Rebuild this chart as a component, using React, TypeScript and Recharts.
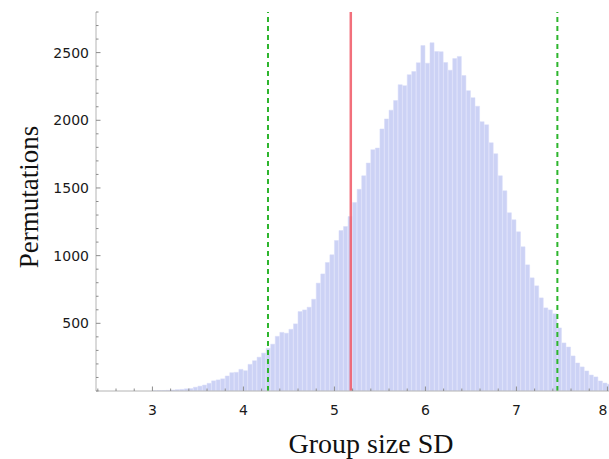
import React from 'react';
import { BarChart, Bar, XAxis, YAxis, ReferenceLine } from 'recharts';

// Histogram bins (left edge of each 0.05-wide bin) and permutation counts
const binStarts = [
  3.0, 3.05, 3.1, 3.15, 3.2, 3.25, 3.3, 3.35, 3.4, 3.45,
  3.5, 3.55, 3.6, 3.65, 3.7, 3.75, 3.8, 3.85, 3.9, 3.95,
  4.0, 4.05, 4.1, 4.15, 4.2, 4.25, 4.3, 4.35, 4.4, 4.45,
  4.5, 4.55, 4.6, 4.65, 4.7, 4.75, 4.8, 4.85, 4.9, 4.95,
  5.0, 5.05, 5.1, 5.15, 5.2, 5.25, 5.3, 5.35, 5.4, 5.45,
  5.5, 5.55, 5.6, 5.65, 5.7, 5.75, 5.8, 5.85, 5.9, 5.95,
  6.0, 6.05, 6.1, 6.15, 6.2, 6.25, 6.3, 6.35, 6.4, 6.45,
  6.5, 6.55, 6.6, 6.65, 6.7, 6.75, 6.8, 6.85, 6.9, 6.95,
  7.0, 7.05, 7.1, 7.15, 7.2, 7.25, 7.3, 7.35, 7.4, 7.45,
  7.5, 7.55, 7.6, 7.65, 7.7, 7.75, 7.8, 7.85, 7.9, 7.95,
  8.0,
];
const counts = [
  2, 3, 4, 5, 7, 10, 12, 16, 18, 28,
  36, 44, 57, 75, 82, 90, 111, 135, 138, 160,
  150, 197, 224, 250, 280, 315, 346, 404, 433, 427,
  456, 496, 587, 599, 619, 678, 797, 865, 949, 1006,
  1112, 1186, 1215, 1289, 1392, 1490, 1590, 1684, 1783, 1795,
  1936, 2010, 2075, 2146, 2263, 2256, 2337, 2360, 2425, 2552,
  2422, 2573, 2508, 2507, 2426, 2370, 2456, 2472, 2330, 2219,
  2167, 2104, 1990, 1967, 1834, 1753, 1590, 1479, 1317, 1265,
  1176, 1065, 932, 836, 777, 688, 614, 599, 570, 466,
  355, 325, 259, 207, 178, 148, 118, 104, 74, 59,
  50,
];
const binWidth = 0.05;

const xTicks = [
  2.4, 2.6, 2.8, 3, 3.2, 3.4, 3.6, 3.8, 4, 4.2, 4.4, 4.6, 4.8, 5, 5.2, 5.4,
  5.6, 5.8, 6, 6.2, 6.4, 6.6, 6.8, 7, 7.2, 7.4, 7.6, 7.8, 8,
];
const xTickLabels = [3, 4, 5, 6, 7, 8];
const yTicks = [
  0, 100, 200, 300, 400, 500, 600, 700, 800, 900, 1000, 1100, 1200, 1300, 1400,
  1500, 1600, 1700, 1800, 1900, 2000, 2100, 2200, 2300, 2400, 2500, 2600, 2700, 2800,
];
const yTickLabels = [500, 1000, 1500, 2000, 2500];

const observedValue = 5.18;
const lowerBound = 4.27;
const upperBound = 7.45;

const xDomain: [number, number] = [2.38, 8.3];
const yDomain: [number, number] = [0, 2800];

const data = binStarts.map((s, i) => ({
  x: Math.round((s + binWidth / 2) * 1000) / 1000,
  count: counts[i],
}));

const VIEW_W = 609;
const CHART_W = 640;
const CHART_H = 459;
const LEFT = 96;
const PLOT_W = (xDomain[1] - xDomain[0]) * 91;
const RIGHT = CHART_W - LEFT - PLOT_W;

const isLabel = (v: number, arr: number[]) => arr.some((a) => Math.abs(a - v) < 1e-6);

const tickFont = '"DejaVu Sans", sans-serif';
const labelFont = '"Liberation Serif", "Times New Roman", serif';

const XTick = (props: any) => {
  const { x, y, payload } = props;
  const v = payload.value as number;
  const major = isLabel(v, xTickLabels);
  const tx = Math.min(x, VIEW_W - 6);
  return (
    <g>
      <line x1={x} x2={x} y1={y} y2={y - (major ? 4.5 : 2.5)} stroke="#8c8c8c" strokeWidth={1} />
      {major && (
        <text x={tx} y={y + 24} textAnchor="middle" fontFamily={tickFont} fontSize={14} fill="#1a1a1a">
          {String(v)}
        </text>
      )}
    </g>
  );
};

const YTick = (props: any) => {
  const { x, y, payload } = props;
  const v = payload.value as number;
  const major = isLabel(v, yTickLabels);
  return (
    <g>
      <line x1={x} x2={x + (major ? 4.5 : 2.5)} y1={y} y2={y} stroke="#8c8c8c" strokeWidth={1} />
      {major && (
        <text x={x - 7} y={y} dy="0.36em" textAnchor="end" fontFamily={tickFont} fontSize={14} fill="#1a1a1a">
          {String(v)}
        </text>
      )}
    </g>
  );
};

const XLabel = () => (
  <text x={371} y={453} textAnchor="middle" fontFamily={labelFont} fontSize={28} fill="#111">
    Group size SD
  </text>
);

const YLabel = () => (
  <text
    x={0}
    y={0}
    transform="translate(38,197) rotate(-90)"
    textAnchor="middle"
    fontFamily={labelFont}
    fontSize={27}
    fill="#111"
  >
    Permutations
  </text>
);

export default function App() {
  return (
    <div
      style={{
        position: 'absolute',
        left: 0,
        top: 0,
        width: VIEW_W,
        height: 459,
        overflow: 'hidden',
        background: '#fff',
      }}
    >
      <BarChart
        width={CHART_W}
        height={CHART_H}
        data={data}
        margin={{ top: 12, right: RIGHT, bottom: 0, left: 0 }}
        barCategoryGap={0}
        barGap={0}
      >
        <XAxis
          dataKey="x"
          type="number"
          domain={xDomain}
          allowDataOverflow
          ticks={xTicks}
          interval={0}
          height={68}
          tickSize={0}
          tickMargin={0}
          tickLine={false}
          axisLine={{ stroke: '#b4b4b4', strokeWidth: 1 }}
          tick={(p: any) => <XTick {...p} />}
          label={() => <XLabel />}
        />
        <YAxis
          type="number"
          domain={yDomain}
          allowDataOverflow
          ticks={yTicks}
          interval={0}
          width={LEFT}
          tickSize={0}
          tickMargin={0}
          tickLine={false}
          axisLine={{ stroke: '#b4b4b4', strokeWidth: 1 }}
          tick={(p: any) => <YTick {...p} />}
          label={() => <YLabel />}
        />
        <Bar
          dataKey="count"
          fill="#ccd2f5"
          stroke="#d9ddf8"
          strokeWidth={0.5}
          barSize={binWidth * 91}
          isAnimationActive={false}
        />
        <ReferenceLine x={lowerBound} stroke="#2db52d" strokeWidth={2} strokeDasharray="5 4" />
        <ReferenceLine x={upperBound} stroke="#2db52d" strokeWidth={2} strokeDasharray="5 4" />
        <ReferenceLine x={observedValue} stroke="#f1606e" strokeOpacity={0.9} strokeWidth={2.5} />
      </BarChart>
    </div>
  );
}
